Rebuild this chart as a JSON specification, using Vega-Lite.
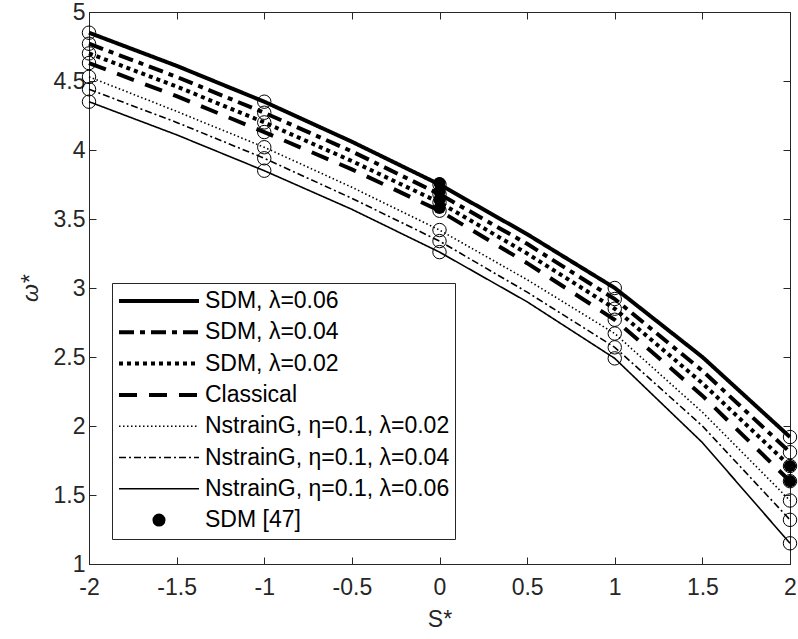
{
  "$schema": "https://vega.github.io/schema/vega-lite/v6.json",
  "width": 701,
  "height": 552,
  "autosize": "none",
  "padding": {"left": 89, "top": 12, "right": 8, "bottom": 75},
  "background": "white",
  "config": {
    "view": {"stroke": "#262626", "strokeWidth": 1},
    "font": "Liberation Sans",
    "axis": {
      "grid": false,
      "domainColor": "#262626",
      "tickColor": "#262626",
      "labelColor": "#262626",
      "titleColor": "#262626",
      "labelFont": "Liberation Sans",
      "titleFont": "Liberation Sans",
      "labelFontSize": 23,
      "titleFontSize": 23,
      "titleFontWeight": "normal",
      "tickSize": -7,
      "domainWidth": 1,
      "tickWidth": 1
    }
  },
  "datasets": {
    "curves": [
      {"series": "SDM, λ=0.06", "S": -2, "w": 4.85}, {"series": "SDM, λ=0.06", "S": -1.5, "w": 4.61}, {"series": "SDM, λ=0.06", "S": -1, "w": 4.35}, {"series": "SDM, λ=0.06", "S": -0.5, "w": 4.06}, {"series": "SDM, λ=0.06", "S": 0, "w": 3.75}, {"series": "SDM, λ=0.06", "S": 0.5, "w": 3.39}, {"series": "SDM, λ=0.06", "S": 1, "w": 3.0}, {"series": "SDM, λ=0.06", "S": 1.5, "w": 2.5}, {"series": "SDM, λ=0.06", "S": 2, "w": 1.92},
      {"series": "SDM, λ=0.04", "S": -2, "w": 4.77}, {"series": "SDM, λ=0.04", "S": -1.5, "w": 4.53}, {"series": "SDM, λ=0.04", "S": -1, "w": 4.27}, {"series": "SDM, λ=0.04", "S": -0.5, "w": 3.99}, {"series": "SDM, λ=0.04", "S": 0, "w": 3.68}, {"series": "SDM, λ=0.04", "S": 0.5, "w": 3.32}, {"series": "SDM, λ=0.04", "S": 1, "w": 2.92}, {"series": "SDM, λ=0.04", "S": 1.5, "w": 2.4}, {"series": "SDM, λ=0.04", "S": 2, "w": 1.81},
      {"series": "SDM, λ=0.02", "S": -2, "w": 4.7}, {"series": "SDM, λ=0.02", "S": -1.5, "w": 4.46}, {"series": "SDM, λ=0.02", "S": -1, "w": 4.2}, {"series": "SDM, λ=0.02", "S": -0.5, "w": 3.92}, {"series": "SDM, λ=0.02", "S": 0, "w": 3.62}, {"series": "SDM, λ=0.02", "S": 0.5, "w": 3.25}, {"series": "SDM, λ=0.02", "S": 1, "w": 2.85}, {"series": "SDM, λ=0.02", "S": 1.5, "w": 2.31}, {"series": "SDM, λ=0.02", "S": 2, "w": 1.71},
      {"series": "Classical", "S": -2, "w": 4.63}, {"series": "Classical", "S": -1.5, "w": 4.39}, {"series": "Classical", "S": -1, "w": 4.13}, {"series": "Classical", "S": -0.5, "w": 3.86}, {"series": "Classical", "S": 0, "w": 3.56}, {"series": "Classical", "S": 0.5, "w": 3.18}, {"series": "Classical", "S": 1, "w": 2.77}, {"series": "Classical", "S": 1.5, "w": 2.22}, {"series": "Classical", "S": 2, "w": 1.6},
      {"series": "NstrainG, η=0.1, λ=0.02", "S": -2, "w": 4.53}, {"series": "NstrainG, η=0.1, λ=0.02", "S": -1.5, "w": 4.28}, {"series": "NstrainG, η=0.1, λ=0.02", "S": -1, "w": 4.02}, {"series": "NstrainG, η=0.1, λ=0.02", "S": -0.5, "w": 3.73}, {"series": "NstrainG, η=0.1, λ=0.02", "S": 0, "w": 3.42}, {"series": "NstrainG, η=0.1, λ=0.02", "S": 0.5, "w": 3.06}, {"series": "NstrainG, η=0.1, λ=0.02", "S": 1, "w": 2.67}, {"series": "NstrainG, η=0.1, λ=0.02", "S": 1.5, "w": 2.1}, {"series": "NstrainG, η=0.1, λ=0.02", "S": 2, "w": 1.46},
      {"series": "NstrainG, η=0.1, λ=0.04", "S": -2, "w": 4.44}, {"series": "NstrainG, η=0.1, λ=0.04", "S": -1.5, "w": 4.2}, {"series": "NstrainG, η=0.1, λ=0.04", "S": -1, "w": 3.94}, {"series": "NstrainG, η=0.1, λ=0.04", "S": -0.5, "w": 3.65}, {"series": "NstrainG, η=0.1, λ=0.04", "S": 0, "w": 3.34}, {"series": "NstrainG, η=0.1, λ=0.04", "S": 0.5, "w": 2.97}, {"series": "NstrainG, η=0.1, λ=0.04", "S": 1, "w": 2.57}, {"series": "NstrainG, η=0.1, λ=0.04", "S": 1.5, "w": 2.0}, {"series": "NstrainG, η=0.1, λ=0.04", "S": 2, "w": 1.32},
      {"series": "NstrainG, η=0.1, λ=0.06", "S": -2, "w": 4.35}, {"series": "NstrainG, η=0.1, λ=0.06", "S": -1.5, "w": 4.11}, {"series": "NstrainG, η=0.1, λ=0.06", "S": -1, "w": 3.85}, {"series": "NstrainG, η=0.1, λ=0.06", "S": -0.5, "w": 3.57}, {"series": "NstrainG, η=0.1, λ=0.06", "S": 0, "w": 3.26}, {"series": "NstrainG, η=0.1, λ=0.06", "S": 0.5, "w": 2.9}, {"series": "NstrainG, η=0.1, λ=0.06", "S": 1, "w": 2.49}, {"series": "NstrainG, η=0.1, λ=0.06", "S": 1.5, "w": 1.88}, {"series": "NstrainG, η=0.1, λ=0.06", "S": 2, "w": 1.15}
    ],
    "ref": [
      {"series": "SDM [47]", "S": 0, "w": 3.76},
      {"series": "SDM [47]", "S": 0, "w": 3.7},
      {"series": "SDM [47]", "S": 0, "w": 3.64},
      {"series": "SDM [47]", "S": 0, "w": 3.58},
      {"series": "SDM [47]", "S": 2, "w": 1.71},
      {"series": "SDM [47]", "S": 2, "w": 1.6}
    ]
  },
  "layer": [
    {
      "data": {"name": "curves"},
      "mark": {"type": "line", "color": "black", "strokeCap": "butt"},
      "encoding": {
        "x": {
          "field": "S", "type": "quantitative",
          "scale": {"domain": [-2, 2], "nice": false, "zero": false},
          "axis": {
            "orient": "bottom", "title": "S*", "values": [-2, -1.5, -1, -0.5, 0, 0.5, 1, 1.5, 2],
            "labelExpr": "replace(format(datum.value, '~g'), '\u2212', '-')",
            "labelPadding": 19, "titlePadding": 9, "labelFlush": false
          }
        },
        "y": {
          "field": "w", "type": "quantitative",
          "scale": {"domain": [1, 5], "nice": false, "zero": false},
          "axis": {
            "orient": "left", "title": "ω*", "titleFontStyle": "italic", "values": [1, 1.5, 2, 2.5, 3, 3.5, 4, 4.5, 5],
            "labelExpr": "format(datum.value, '~g')",
            "labelPadding": 11, "titlePadding": 11, "labelFlush": false
          }
        },
        "strokeDash": {
          "field": "series", "type": "nominal",
          "scale": {
            "domain": ["SDM, λ=0.06", "SDM, λ=0.04", "SDM, λ=0.02", "Classical", "NstrainG, η=0.1, λ=0.02", "NstrainG, η=0.1, λ=0.04", "NstrainG, η=0.1, λ=0.06", "SDM [47]"],
            "range": [[1, 0], [15, 6, 5, 6], [4, 4], [18, 12], [1.5, 2.5], [7, 3, 2, 3], [1, 0], [1, 0]]
          },
          "legend": {
            "orient": "none", "legendX": 23, "legendY": 271, "title": null,
            "strokeColor": "#262626", "fillColor": "white", "padding": 5,
            "symbolSize": 6400, "symbolType": "stroke", "clipHeight": 26, "rowPadding": 5.3,
            "labelFont": "Liberation Sans", "labelFontSize": 23, "labelColor": "black", "labelLimit": 400, "labelOffset": 4,
            "symbolStrokeColor": "black",
            "encode": {
              "symbols": {
                "update": {
                  "shape": {"signal": "datum.value === 'SDM [47]' ? 'circle' : 'stroke'"},
                  "size": {"signal": "datum.value === 'SDM [47]' ? 170 : 6400"},
                  "fill": {"signal": "datum.value === 'SDM [47]' ? 'black' : 'transparent'"},
                  "stroke": {"value": "black"},
                  "strokeWidth": {"signal": "datum.value === 'SDM [47]' ? 0 : (indexof(datum.value, 'NstrainG') >= 0 ? 1.6 : 4)"}
                }
              }
            }
          }
        },
        "strokeWidth": {
          "field": "series", "type": "nominal",
          "scale": {
            "type": "ordinal",
            "domain": ["SDM, λ=0.06", "SDM, λ=0.04", "SDM, λ=0.02", "Classical", "NstrainG, η=0.1, λ=0.02", "NstrainG, η=0.1, λ=0.04", "NstrainG, η=0.1, λ=0.06", "SDM [47]"],
            "range": [4, 4, 4, 4, 1.6, 1.6, 1.6, 0]
          },
          "legend": null
        }
      }
    },
    {
      "data": {"name": "curves"},
      "transform": [{"filter": "datum.S === -2 || datum.S === -1 || datum.S === 0 || datum.S === 1 || datum.S === 2"}],
      "mark": {"type": "point", "shape": "circle", "size": 180, "filled": false, "stroke": "black", "strokeWidth": 1, "opacity": 1},
      "encoding": {
        "x": {"field": "S", "type": "quantitative", "axis": {"orient": "top", "title": null, "labels": false, "values": [-2, -1.5, -1, -0.5, 0, 0.5, 1, 1.5, 2]}},
        "y": {"field": "w", "type": "quantitative", "axis": {"orient": "right", "title": null, "labels": false, "values": [1, 1.5, 2, 2.5, 3, 3.5, 4, 4.5, 5]}}
      }
    },
    {
      "data": {"name": "ref"},
      "mark": {"type": "circle", "size": 150, "color": "black", "opacity": 1},
      "encoding": {
        "x": {"field": "S", "type": "quantitative", "axis": null},
        "y": {"field": "w", "type": "quantitative", "axis": null}
      }
    }
  ],
  "resolve": {"axis": {"x": "independent", "y": "independent"}}
}
